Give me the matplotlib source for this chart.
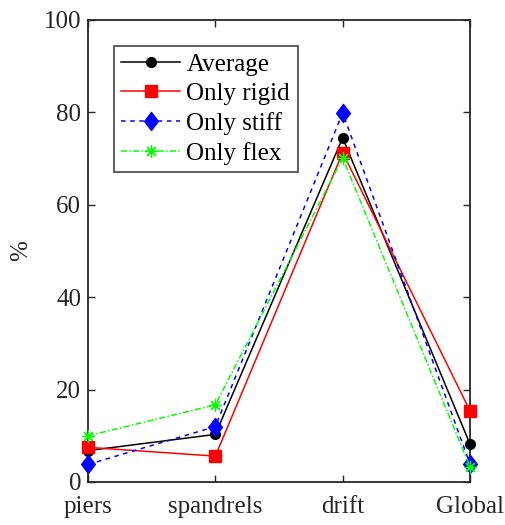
import matplotlib
matplotlib.use("Agg")
import matplotlib.pyplot as plt
from matplotlib.path import Path

categories = ["piers", "spandrels", "drift", "Global"]
average = [6.8, 10.3, 74.5, 8.2]
only_rigid = [7.5, 5.6, 71.3, 15.4]
only_stiff = [3.8, 12.0, 79.9, 3.9]
only_flex = [10.0, 16.7, 70.1, 3.3]
y_ticks = [0, 20, 40, 60, 80, 100]

plt.rcParams["font.family"] = ["Liberation Serif", "DejaVu Serif"]
edge = "#262626"
fs = 18

# slightly tall diamond marker
diamond = Path([(0, 1), (0.76, 0), (0, -1), (-0.76, 0), (0, 1)],
               [Path.MOVETO, Path.LINETO, Path.LINETO, Path.LINETO, Path.CLOSEPOLY])

fig = plt.figure(figsize=(5.05, 5.25), dpi=100)
ax = fig.add_axes([88 / 505, 1 - 482 / 525, (470 - 88) / 505, (482 - 20) / 525])

x = list(range(1, len(categories) + 1))
common = dict(lw=1.1, clip_on=False, zorder=3)
ax.plot(x, average, color="black", marker="o", ms=7, label="Average", **common)
ax.plot(x, only_rigid, color="red", marker="s", ms=9, label="Only rigid", **common)
ax.plot(x, only_stiff, color="blue", ls=(0, (3, 3)), marker=diamond, ms=13,
        label="Only stiff", **common)
ax.plot(x, only_flex, color="#00ff00", ls=(0, (4, 1.5, 1, 1.5)), marker=(8, 2, 0),
        ms=9, markeredgewidth=0.9, label="Only flex", **common)

ax.set_xlim(1, 4)
ax.set_ylim(0, 100)
ax.set_xticks(x)
ax.set_xticklabels(categories)
ax.set_yticks(y_ticks)
ax.set_ylabel("%", fontsize=fs, color=edge, labelpad=8)

ax.tick_params(direction="in", top=True, right=True, length=5, width=1,
               labelsize=fs, colors=edge, pad=5)
ax.tick_params(axis="x", pad=10)
for s in ax.spines.values():
    s.set_color(edge)
    s.set_linewidth(1.3)

leg = ax.legend(loc="upper left", bbox_to_anchor=(0.068, 0.944), fontsize=fs,
                frameon=True, fancybox=False, handlelength=2.35, handletextpad=0.25,
                borderpad=0.3, labelspacing=0.27, borderaxespad=0)
leg.get_frame().set_edgecolor(edge)
leg.get_frame().set_linewidth(1.3)

fig.savefig("out.png", dpi=100)
